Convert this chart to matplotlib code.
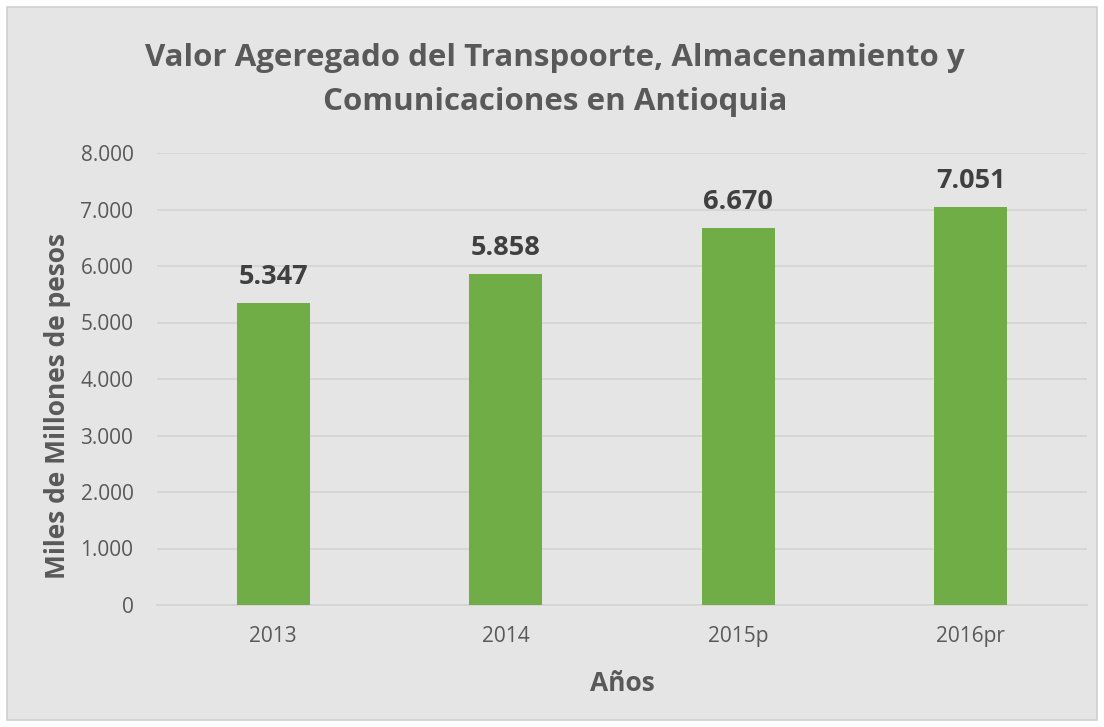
import matplotlib.pyplot as plt
from matplotlib.patches import Rectangle
from matplotlib.ticker import FuncFormatter

plt.rcParams['font.family'] = ['Open Sans', 'DejaVu Sans']

years = ['2013', '2014', '2015p', '2016pr']
valores = [5347, 5858, 6670, 7051]
labels = ['5.347', '5.858', '6.670', '7.051']

bg = '#E5E5E5'
txt = '#595959'

fig = plt.figure(figsize=(11.04, 7.27), dpi=100, facecolor='white')
# chart area with thin border like an Excel chart
fig.patches.append(Rectangle((7 / 1104, 7 / 727), 1090 / 1104, 713 / 727,
                             transform=fig.transFigure, facecolor=bg,
                             edgecolor='#D0D0D0', linewidth=1.2, zorder=-10))

ax = fig.add_axes([157 / 1104, 1 - 605 / 727, 930 / 1104, (605 - 153) / 727])
ax.set_facecolor(bg)
ax.patch.set_alpha(0)

x = range(len(years))
ax.bar(x, valores, width=0.315, color='#70AD47', zorder=3)
for i, v in enumerate(valores):
    ax.text(i, v + 230, labels[i], ha='center', va='bottom', fontsize=19.5,
            fontweight='bold', color='#404040')

ax.set_xlim(-0.5, len(years) - 0.5)
ax.set_ylim(0, 8000)
ax.set_yticks(range(0, 8001, 1000))
ax.yaxis.set_major_formatter(FuncFormatter(lambda v, p: f'{int(v):,}'.replace(',', '.')))
ax.set_xticks(list(x))
ax.set_xticklabels(years)
ax.grid(axis='y', color='#D4D4D4', linewidth=1.2, zorder=0)
for s in ['top', 'right', 'left']:
    ax.spines[s].set_visible(False)
ax.spines['bottom'].set_color('#D4D4D4')
ax.spines['bottom'].set_linewidth(1.2)
ax.tick_params(axis='both', length=0, labelsize=15, labelcolor=txt)
ax.tick_params(axis='y', pad=17)
ax.tick_params(axis='x', pad=15)

ax.set_xlabel('Años', fontsize=19, fontweight='bold', color=txt, labelpad=17)
# y title sits a bit below the plot centre, as in the original
fig.text(58 / 1104, 1 - 406 / 727, 'Miles de Millones de pesos', rotation=90,
         ha='center', va='center', fontsize=19, fontweight='bold', color=txt)

fig.text(555 / 1104, 1 - 80 / 727,
         'Valor Ageregado del Transpoorte, Almacenamiento y\nComunicaciones en Antioquia',
         ha='center', va='center', fontsize=22.5, fontweight='bold', color=txt,
         linespacing=1.6)

fig.savefig('out.png', dpi=100, facecolor='white')
